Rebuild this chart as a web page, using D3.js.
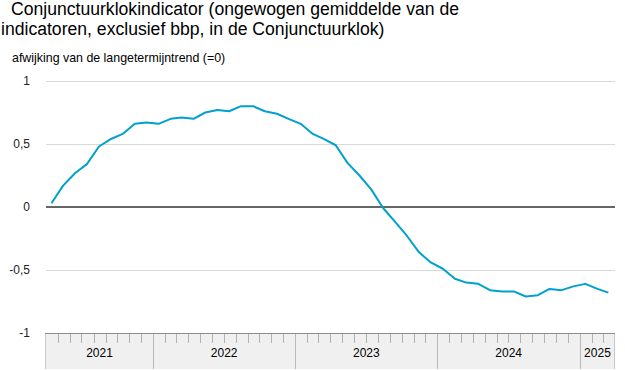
<!DOCTYPE html>
<html>
<head>
<meta charset="utf-8">
<script src="https://cdn.jsdelivr.net/npm/d3@7"></script>
<style>
  body { margin: 0; background: #fff; }
  svg { font-family: Arial, "Liberation Sans", sans-serif; }
</style>
</head>
<body>
<svg id="chart" width="625" height="370"></svg>
<script>
// monthly values, april 2021 - march 2025
var startMonth = new Date(2021, 3, 1);
var values = [
  0.03, 0.17, 0.27, 0.34, 0.48, 0.54, 0.58, 0.66, 0.67,
  0.66, 0.70, 0.71, 0.70, 0.75, 0.77, 0.76, 0.80, 0.80, 0.76, 0.74, 0.70,
  0.66, 0.58, 0.54, 0.49, 0.35, 0.25, 0.14, -0.01, -0.12, -0.23, -0.36, -0.44,
  -0.49, -0.57, -0.60, -0.61, -0.66, -0.67, -0.67, -0.71, -0.70, -0.65, -0.66, -0.63,
  -0.61, -0.65, -0.68
];
var years = [2021, 2022, 2023, 2024, 2025];
var yTicks = [-1, -0.5, 0, 0.5, 1];

var data = values.map(function(v, i) {
  return { date: new Date(2021, 3 + i, 15), value: v };
});
var endMonth = d3.timeMonth.offset(startMonth, values.length);

var svg = d3.select('#chart');

var plotLeft = 46, plotRight = 615, plotTop = 81, plotBottom = 333, axisH = 36;

var x = d3.scaleTime().domain([startMonth, endMonth]).range([plotLeft, plotRight]);
var y = d3.scaleLinear().domain([-1, 1]).range([plotBottom, plotTop]);

// titles
svg.append('text').attr('x', 11).attr('y', 15).attr('font-size', 17.6).attr('fill', '#000')
  .text('Conjunctuurklokindicator (ongewogen gemiddelde van de');
svg.append('text').attr('x', 1).attr('y', 35).attr('font-size', 17.6).attr('fill', '#000')
  .text('indicatoren, exclusief bbp, in de Conjunctuurklok)');
svg.append('text').attr('x', 12).attr('y', 61.5).attr('font-size', 12.4).attr('fill', '#000')
  .text('afwijking van de langetermijntrend (=0)');

// gridlines
svg.append('g').selectAll('line')
  .data(yTicks.filter(function(d) { return d !== 0 && d !== -1; }))
  .enter().append('line')
  .attr('x1', plotLeft).attr('x2', plotRight)
  .attr('y1', function(d) { return Math.round(y(d)) + 0.5; })
  .attr('y2', function(d) { return Math.round(y(d)) + 0.5; })
  .attr('stroke', '#d9d9d9').attr('stroke-width', 1);

// y labels
svg.append('g').selectAll('text')
  .data(yTicks)
  .enter().append('text')
  .attr('x', 30)
  .attr('y', function(d) { return y(d) + 4; })
  .attr('text-anchor', 'end')
  .attr('font-size', 12)
  .attr('fill', '#222')
  .text(function(d) { return String(d).replace('.', ','); });

// x axis band
var ax = svg.append('g');
ax.append('rect')
  .attr('x', plotLeft - 1).attr('y', plotBottom)
  .attr('width', plotRight - plotLeft + 1).attr('height', axisH)
  .attr('fill', '#f0f0f0');
ax.append('line')
  .attr('x1', plotLeft - 0.5).attr('x2', plotLeft - 0.5)
  .attr('y1', plotBottom).attr('y2', plotBottom + axisH)
  .attr('stroke', '#c8c8c8');
ax.append('line')
  .attr('x1', plotRight - 0.5).attr('x2', plotRight - 0.5)
  .attr('y1', plotBottom).attr('y2', plotBottom + axisH)
  .attr('stroke', '#c8c8c8');

var months = d3.timeMonth.range(d3.timeMonth.offset(startMonth, 1), endMonth)
  .filter(function(d) { return d.getMonth() !== 0; });
ax.selectAll('.mtick')
  .data(months)
  .enter().append('line')
  .attr('class', 'mtick')
  .attr('x1', function(d) { return Math.round(x(d)) + 0.5; })
  .attr('x2', function(d) { return Math.round(x(d)) + 0.5; })
  .attr('y1', plotBottom).attr('y2', plotBottom + 10)
  .attr('stroke', '#b0b0b0');

ax.selectAll('.ytick')
  .data(years.slice(1))
  .enter().append('line')
  .attr('class', 'ytick')
  .attr('x1', function(d) { return Math.round(x(new Date(d, 0, 1))) + 0.5; })
  .attr('x2', function(d) { return Math.round(x(new Date(d, 0, 1))) + 0.5; })
  .attr('y1', plotBottom).attr('y2', plotBottom + axisH)
  .attr('stroke', '#b8b8b8');

ax.append('line')
  .attr('x1', plotLeft - 1).attr('x2', plotRight)
  .attr('y1', plotBottom + 0.5).attr('y2', plotBottom + 0.5)
  .attr('stroke', '#8c8c8c');

ax.selectAll('.ylab')
  .data(years)
  .enter().append('text')
  .attr('class', 'ylab')
  .attr('x', function(d) {
    var a = d3.max([startMonth, new Date(d, 0, 1)]);
    var b = d3.min([endMonth, new Date(d + 1, 0, 1)]);
    return (x(a) + x(b)) / 2;
  })
  .attr('y', plotBottom + 24)
  .attr('text-anchor', 'middle')
  .attr('font-size', 12)
  .attr('fill', '#000')
  .text(function(d) { return d; });

// zero line
svg.append('line')
  .attr('x1', plotLeft).attr('x2', plotRight)
  .attr('y1', y(0)).attr('y2', y(0))
  .attr('stroke', '#666').attr('stroke-width', 2);

// series
var line = d3.line()
  .x(function(d) { return x(d.date); })
  .y(function(d) { return y(d.value); });

svg.append('path')
  .datum(data)
  .attr('d', line)
  .attr('fill', 'none')
  .attr('stroke', '#00a1cd')
  .attr('stroke-width', 2)
  .attr('stroke-linejoin', 'round');
</script>
</body>
</html>
